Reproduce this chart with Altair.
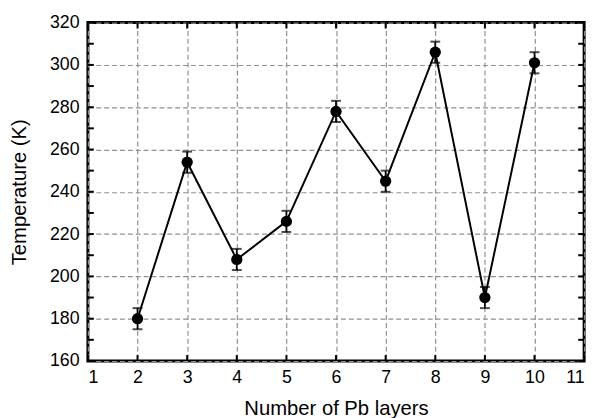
import altair as alt
import pandas as pd

layers = [2, 3, 4, 5, 6, 7, 8, 9, 10]
temps = [180, 254, 208, 226, 278, 245, 306, 190, 301]
errs = [5, 5, 5, 5, 5, 5, 5, 5, 5]

x_ticks = [1, 2, 3, 4, 5, 6, 7, 8, 9, 10, 11]
y_ticks = list(range(160, 321, 10))
y_labels = list(range(160, 321, 20))

W, H = 503, 343
TL = 6

df = pd.DataFrame({"x": layers, "y": temps,
                   "lo": [t - e for t, e in zip(temps, errs)],
                   "hi": [t + e for t, e in zip(temps, errs)]})
xt = pd.DataFrame({"x": x_ticks})
yt = pd.DataFrame({"y": y_ticks})

FONT = "Liberation Sans"
xscale = alt.Scale(domain=[1, 11], nice=False, zero=False)
yscale = alt.Scale(domain=[160, 320], nice=False, zero=False)
xaxis = alt.Axis(values=x_ticks, title="Number of Pb layers", grid=True,
                 gridDash=[5, 3], gridColor="#909090", gridWidth=1.2,
                 ticks=False, domain=False, labelPadding=8, labelFontSize=18,
                 titleFontSize=20.5, titleFontWeight="normal", titlePadding=12,
                 labelColor="black", titleColor="black", labelFont=FONT, titleFont=FONT,
                 format="d")
yaxis = alt.Axis(values=y_labels, title="Temperature (K)", grid=True,
                 gridDash=[5, 3], gridColor="#909090", gridWidth=1.2,
                 ticks=False, domain=False, labelPadding=9, labelFontSize=18,
                 titleFontSize=20.5, titleFontWeight="normal", titlePadding=20,
                 labelColor="black", titleColor="black", labelFont=FONT, titleFont=FONT,
                 format="d")


def X(f):
    return alt.X(f + ":Q", scale=xscale, axis=xaxis)


def Y(f):
    return alt.Y(f + ":Q", scale=yscale, axis=yaxis)


base = alt.Chart(df)
line = base.mark_line(color="black", strokeWidth=2).encode(x=X("x"), y=Y("y"))
bars = base.mark_rule(color="black", strokeWidth=1.8).encode(x=X("x"), y=Y("lo"), y2="hi")
cap_lo = base.mark_tick(color="black", orient="horizontal", size=10, thickness=2).encode(x=X("x"), y=Y("lo"))
cap_hi = base.mark_tick(color="black", orient="horizontal", size=10, thickness=2).encode(x=X("x"), y=Y("hi"))
pts = base.mark_circle(color="black", size=130, opacity=1).encode(x=X("x"), y=Y("y"))

tick_b = alt.Chart(xt).mark_rule(color="black", strokeWidth=2).encode(
    x=X("x"), y=alt.value(H), y2=alt.value(H - TL))
tick_t = alt.Chart(xt).mark_rule(color="black", strokeWidth=2).encode(
    x=X("x"), y=alt.value(0), y2=alt.value(TL))
tick_l = alt.Chart(yt).mark_rule(color="black", strokeWidth=2).encode(
    y=Y("y"), x=alt.value(0), x2=alt.value(TL))
tick_r = alt.Chart(yt).mark_rule(color="black", strokeWidth=2).encode(
    y=Y("y"), x=alt.value(W), x2=alt.value(W - TL))

chart = alt.layer(line, bars, cap_lo, cap_hi, pts, tick_b, tick_t, tick_l, tick_r).properties(
    width=W, height=H,
    autosize=alt.AutoSizeParams(type="none"),
    padding={"left": 81, "top": 12, "right": 9, "bottom": 55},
    background="white",
).configure_view(stroke="black", strokeWidth=3)

chart.save("out.html", embed_options={"renderer": "svg", "actions": False})
